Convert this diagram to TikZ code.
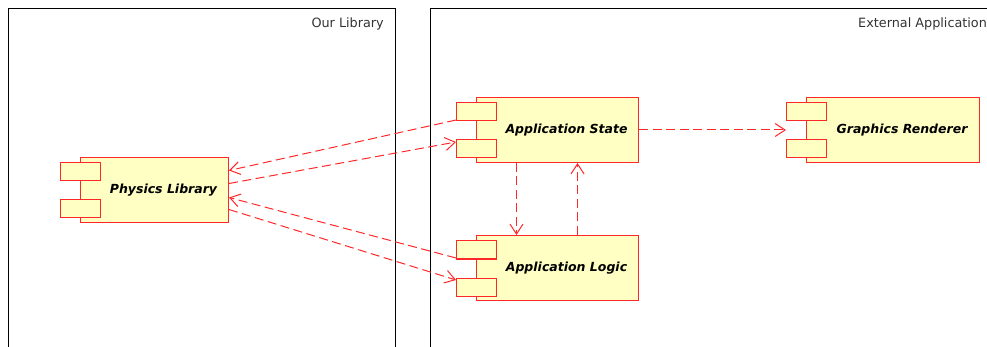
\documentclass[tikz,border=0pt]{standalone}
\usepackage{fontspec}
\setmainfont{DejaVu Sans}
\usetikzlibrary{arrows.meta,positioning,calc}
\definecolor{compfill}{RGB}{255,255,196}
\definecolor{compline}{RGB}{255,40,40}
\definecolor{framegray}{RGB}{51,51,51}

\begin{document}
\begin{tikzpicture}[x=1pt, y=-1pt,
    frame/.style={draw=black, line width=1pt, rectangle, anchor=north west, inner sep=0pt},
    framelabel/.style={inner sep=0pt, text=framegray, font=\fontsize{12.8}{15}\selectfont},
    comp/.style={draw=compline, fill=compfill, line width=1pt, rectangle, minimum height=65pt, inner sep=0pt, anchor=north west, font=\fontsize{12.5}{15}\selectfont\bfseries\itshape, execute at begin node={\hspace*{18pt}}},
    tab/.style={draw=compline, fill=compfill, line width=1pt, rectangle, minimum width=40pt, minimum height=18pt, inner sep=0pt},
    dep/.style={draw=compline, line width=1pt, dash pattern=on 9pt off 4.5pt, -{Straight Barb[length=10pt,width=13pt]}}
]
\useasboundingbox (0,0) rectangle (987,347);
\clip (0,0) rectangle (987,347);

% Frames
\node[frame, minimum width=387pt, minimum height=360pt] (ourlib) at (8,8) {};
\node[frame, minimum width=564pt, minimum height=360pt] (extapp) at (430,8) {};
\node[framelabel, anchor=base east] (ourlibtitle) at ([xshift=-12pt,yshift=-20pt]ourlib.north east) {Our Library};
\node[framelabel, anchor=base west] (extapptitle) at ([xshift=428pt,yshift=-20pt]extapp.north west) {External Application};

% Components
\node[comp, minimum width=148pt] (physlib) at (80,157) {Physics Library};
\node[comp, minimum width=162pt] (appstate) at (476,97) {Application State};
\node[comp, minimum width=162pt] (applogic) at (476,235) {Application Logic};
\node[comp, minimum width=173pt] (renderer) at (806,97) {Graphics Renderer};

% Tabs
\foreach \c in {physlib,appstate,applogic,renderer}{
  \node[tab] (\c-tabtop) at ([yshift=-15pt]\c.north west) {};
  \node[tab] (\c-tabbot) at ([yshift=14pt]\c.south west) {};
}

% Dependencies
\draw[dep] ([xshift=-20pt,yshift=10pt]appstate.west) -- ([yshift=19.5pt]physlib.east);
\draw[dep] ([yshift=6.5pt]physlib.east) -- ([xshift=-20pt,yshift=-12pt]appstate.west);
\draw[dep] ([xshift=-20pt,yshift=10pt]applogic.west) -- ([yshift=-7.5pt]physlib.east);
\draw[dep] ([yshift=-19.5pt]physlib.east) -- ([xshift=-20pt,yshift=-12pt]applogic.west);
\draw[dep] (appstate.east) -- ([xshift=-20pt]renderer.west);
\draw[dep] ([xshift=-41pt]appstate.south) -- ([xshift=-41pt]applogic.north);
\draw[dep] ([xshift=20pt]applogic.north) -- ([xshift=20pt]appstate.south);

\end{tikzpicture}
\end{document}
